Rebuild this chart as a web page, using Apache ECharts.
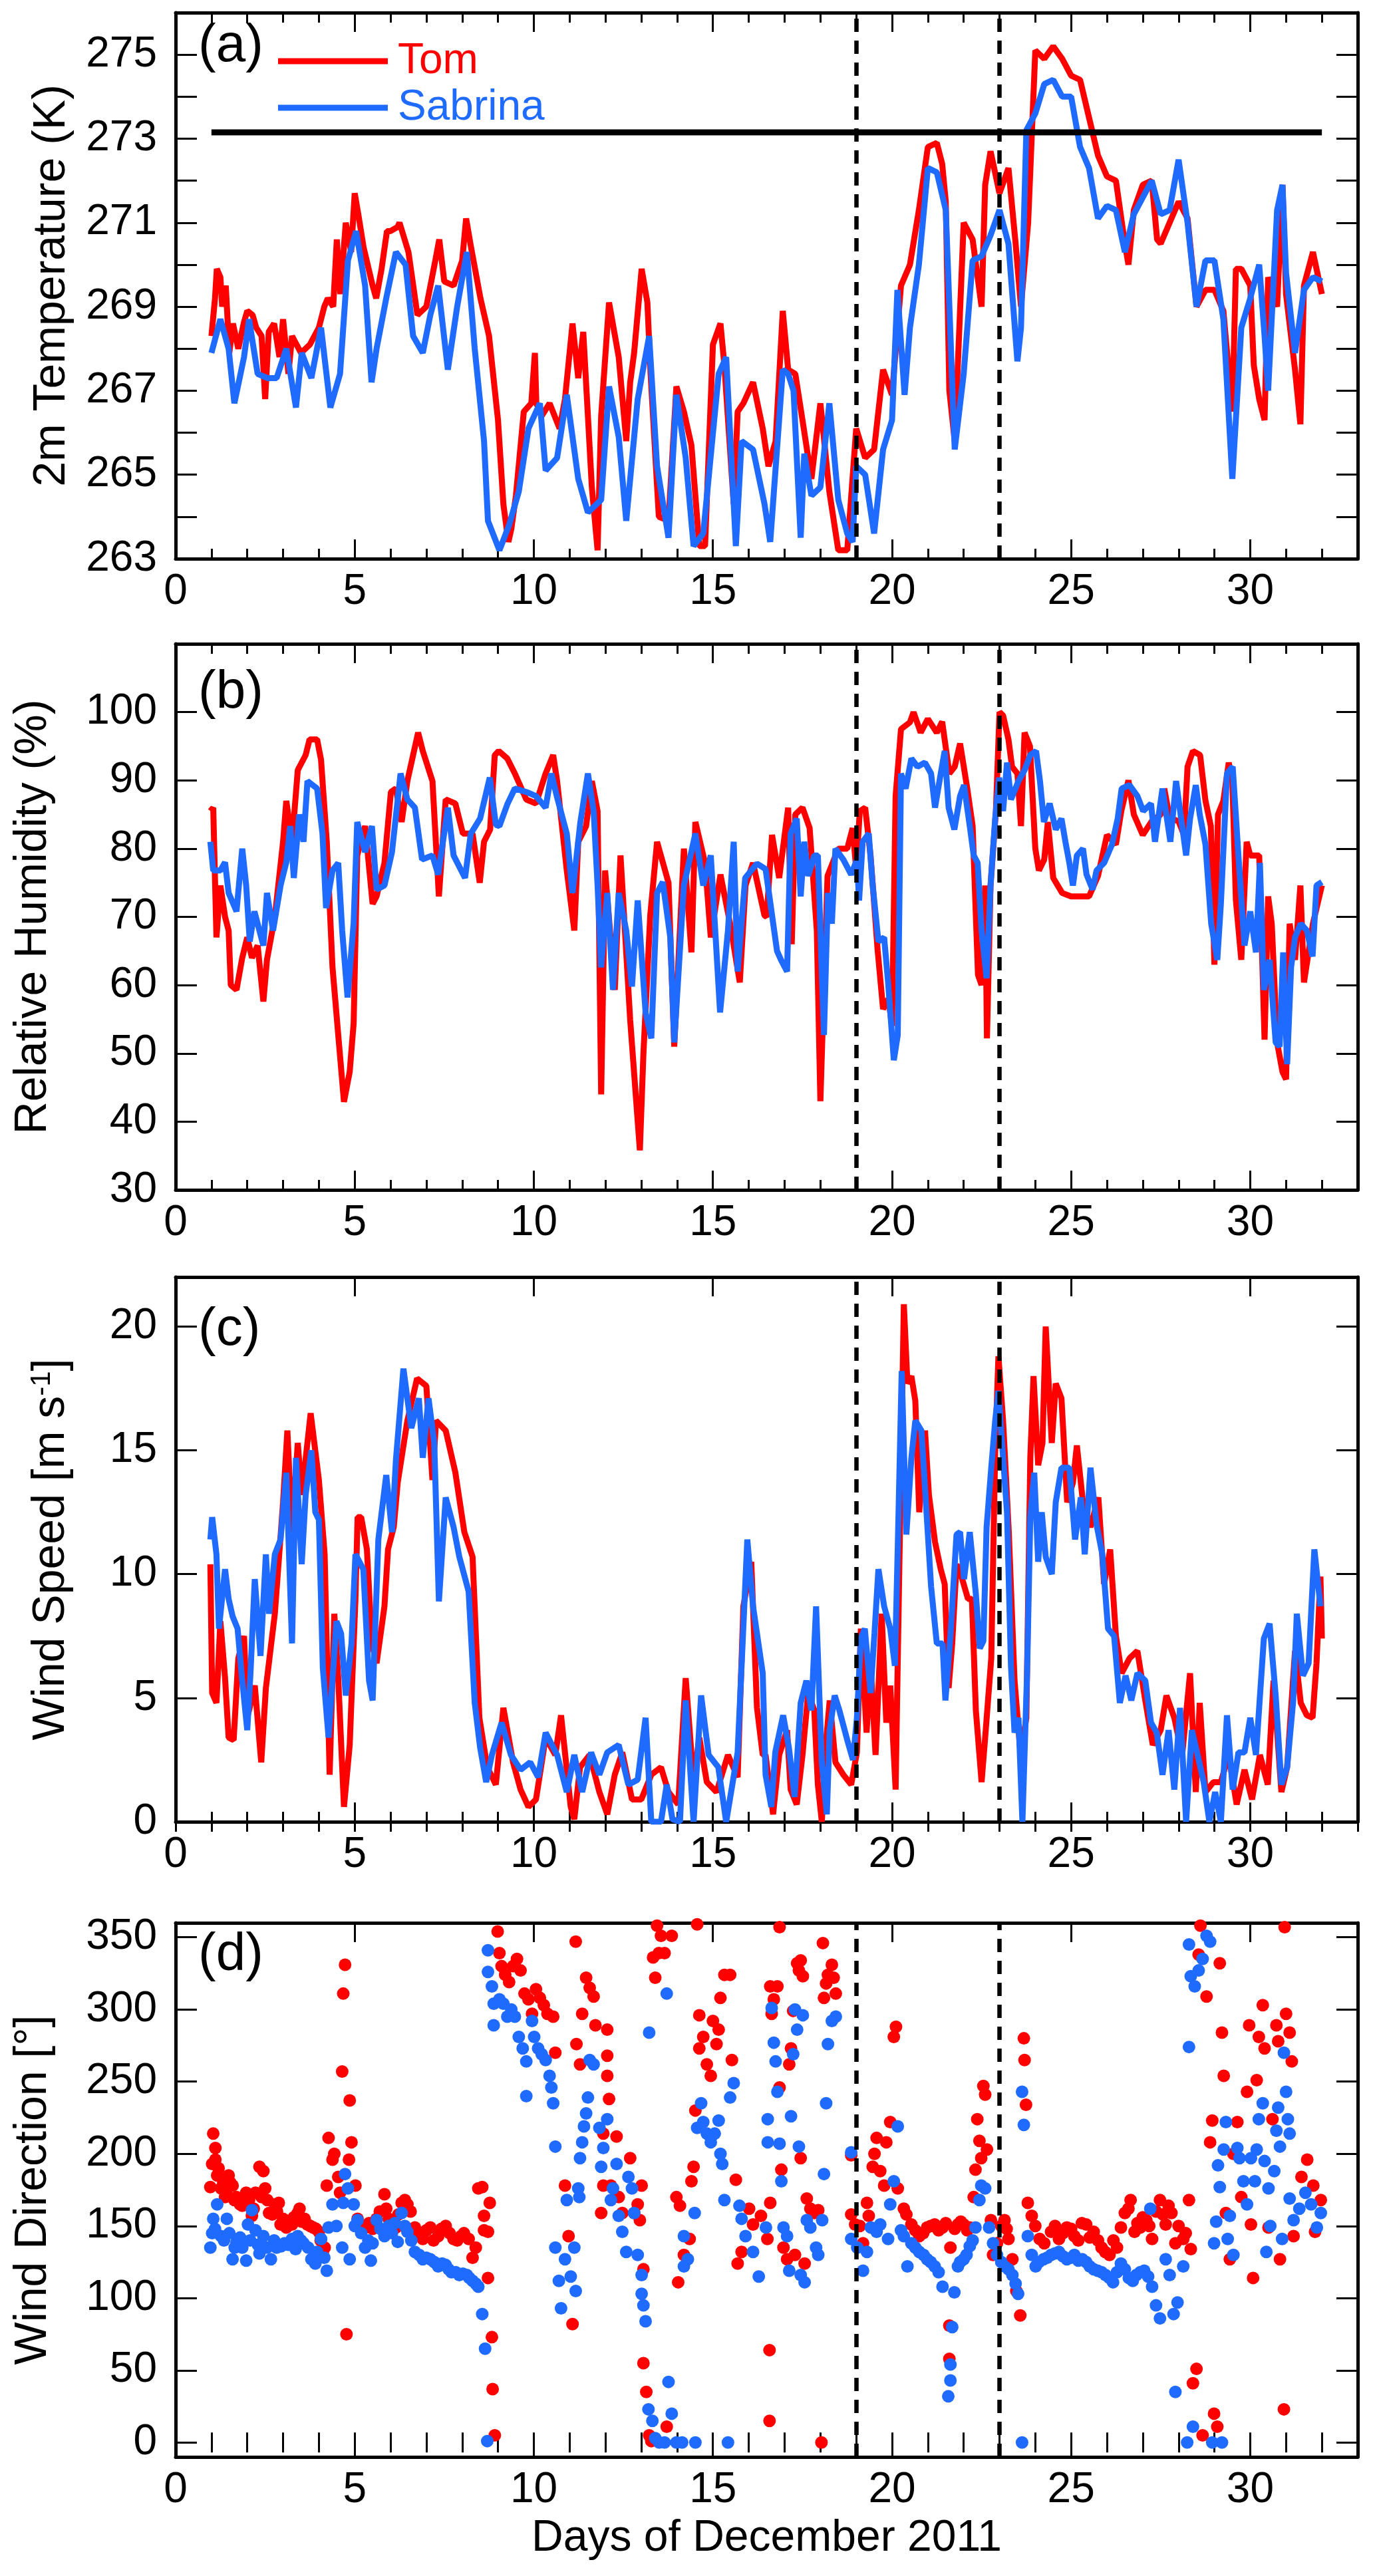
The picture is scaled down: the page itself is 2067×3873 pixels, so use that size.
<!DOCTYPE html>
<html>
<head>
<meta charset="utf-8">
<script src="https://cdn.jsdelivr.net/npm/echarts@6/dist/echarts.min.js"></script>
<style>
  html, body { margin: 0; padding: 0; background: #fff; }
  #chart { width: 2067px; height: 3873px; }
</style>
</head>
<body>
<div id="chart"></div>
<script>
// days of December 2011 where the dashed markers sit, and the 0 °C line
const eventDays = [19, 23];
const freezeLine = [[1, 273.15], [32, 273.15]];

// (a) 2m temperature [K]  -- [day, value]
const tomTemp = [[1.0,268.3],[1.1,269.2],[1.15,269.9],[1.25,269.7],[1.3,269.0],[1.4,269.5],[1.5,267.9],[1.6,268.6],[1.75,268.0],[1.9,268.6],[2.0,268.9],[2.15,268.8],[2.25,268.5],[2.4,268.3],[2.5,266.8],[2.6,268.4],[2.75,268.6],[2.9,267.8],[3.0,268.7],[3.15,267.4],[3.25,268.3],[3.5,267.9],[3.75,268.1],[4.0,268.5],[4.15,269.0],[4.25,269.2],[4.4,269.0],[4.5,270.6],[4.6,269.3],[4.75,271.0],[4.9,270.3],[5.0,271.7],[5.1,271.2],[5.25,270.4],[5.5,269.5],[5.6,269.2],[5.75,269.9],[5.9,270.8],[6.0,270.8],[6.2,270.9],[6.25,271.0],[6.5,270.3],[6.75,268.8],[7.0,269.0],[7.25,270.1],[7.36,270.6],[7.5,269.6],[7.76,269.5],[8.0,270.1],[8.11,271.1],[8.25,270.4],[8.51,269.2],[8.75,268.3],[9.0,266.3],[9.15,264.3],[9.29,263.4],[9.37,263.7],[9.5,264.5],[9.72,266.5],[9.93,266.7],[10.03,267.9],[10.07,266.7],[10.22,266.4],[10.44,266.7],[10.72,266.1],[10.87,266.8],[11.08,268.6],[11.24,267.3],[11.38,268.4],[11.62,264.7],[11.78,263.2],[11.88,266.4],[12.1,269.1],[12.37,267.8],[12.58,265.8],[12.69,267.2],[12.8,267.9],[13.01,269.9],[13.17,269.1],[13.26,267.4],[13.49,264.0],[13.76,263.9],[13.98,267.1],[14.19,266.5],[14.4,265.7],[14.62,263.3],[14.78,263.3],[15.0,268.1],[15.21,268.6],[15.32,267.6],[15.58,264.3],[15.69,266.5],[15.85,266.7],[16.12,267.2],[16.39,266.1],[16.55,265.2],[16.75,265.8],[16.95,268.9],[17.1,267.5],[17.3,267.4],[17.5,266.3],[17.75,264.9],[18.0,266.7],[18.25,264.6],[18.5,263.2],[18.75,263.2],[19.0,266.1],[19.25,265.4],[19.5,265.6],[19.75,267.5],[20.0,266.9],[20.25,269.5],[20.5,270.0],[20.75,271.3],[21.0,272.8],[21.25,272.9],[21.4,272.4],[21.5,271.5],[21.6,267.0],[21.75,265.8],[22.0,271.0],[22.25,270.6],[22.5,269.0],[22.6,271.9],[22.75,272.7],[23.0,271.7],[23.25,272.3],[23.45,270.5],[23.6,269.0],[23.8,271.0],[24.0,275.1],[24.25,274.9],[24.5,275.2],[24.75,274.9],[25.0,274.5],[25.25,274.4],[25.5,273.5],[25.75,272.6],[26.0,272.1],[26.25,272.0],[26.5,270.5],[26.6,270.0],[26.75,271.3],[27.0,271.9],[27.25,272.0],[27.4,270.6],[27.5,270.5],[27.75,271.0],[28.0,271.5],[28.25,271.1],[28.5,269.0],[28.75,269.4],[29.0,269.4],[29.25,268.9],[29.5,266.5],[29.6,269.9],[29.75,269.9],[30.0,269.5],[30.1,267.6],[30.25,266.8],[30.4,266.3],[30.5,269.7],[30.75,269.0],[30.9,271.9],[31.0,269.3],[31.25,267.5],[31.4,266.2],[31.5,269.5],[31.75,270.3],[32.0,269.3]];
const sabTemp = [[1.0,267.9],[1.25,268.7],[1.48,268.0],[1.64,266.7],[1.91,267.8],[2.05,268.7],[2.29,267.4],[2.56,267.3],[2.82,267.3],[3.09,268.0],[3.36,266.6],[3.52,267.9],[3.79,267.3],[4.06,268.5],[4.32,266.6],[4.59,267.4],[4.81,270.1],[5.04,270.8],[5.29,269.5],[5.47,267.2],[5.61,268.0],[5.88,269.2],[6.15,270.3],[6.42,270.0],[6.63,268.3],[6.9,267.9],[7.11,268.8],[7.33,269.5],[7.6,267.5],[7.86,269.0],[8.13,270.3],[8.35,268.0],[8.61,265.8],[8.72,263.9],[9.04,263.2],[9.31,263.8],[9.58,264.6],[9.85,266.1],[10.17,266.7],[10.33,265.1],[10.65,265.4],[10.92,266.9],[11.24,264.9],[11.51,264.1],[11.88,264.4],[12.1,267.1],[12.37,265.9],[12.58,263.9],[12.9,266.8],[13.22,268.3],[13.44,265.2],[13.76,263.5],[13.98,266.9],[14.24,265.4],[14.46,263.3],[14.73,263.6],[15.16,267.4],[15.37,267.8],[15.64,263.3],[15.8,265.8],[16.12,265.6],[16.44,264.3],[16.6,263.4],[16.95,267.5],[17.1,267.4],[17.25,267.0],[17.45,263.5],[17.55,265.5],[17.75,264.5],[18.0,264.7],[18.25,266.7],[18.5,264.4],[18.75,263.6],[18.9,263.4],[19.0,265.2],[19.25,265.0],[19.5,263.6],[19.75,265.6],[20.0,266.3],[20.15,269.4],[20.35,266.9],[20.5,268.5],[20.75,270.0],[21.0,272.3],[21.25,272.2],[21.5,271.3],[21.75,265.6],[22.0,267.4],[22.25,270.1],[22.5,270.2],[22.75,270.7],[23.0,271.3],[23.25,270.5],[23.5,267.7],[23.6,268.5],[23.75,273.2],[24.0,273.6],[24.25,274.3],[24.5,274.4],[24.75,274.0],[25.0,274.0],[25.25,272.8],[25.5,272.3],[25.75,271.1],[26.0,271.4],[26.25,271.3],[26.5,270.3],[26.75,271.2],[27.0,271.6],[27.25,272.0],[27.5,271.2],[27.75,271.3],[28.0,272.5],[28.25,271.0],[28.5,269.0],[28.75,270.1],[29.0,270.1],[29.25,268.7],[29.5,264.9],[29.75,268.5],[30.0,269.2],[30.25,270.0],[30.4,268.3],[30.5,267.0],[30.75,271.3],[30.9,271.9],[31.0,269.8],[31.25,267.9],[31.5,269.4],[31.75,269.7],[32.0,269.6]];

// (b) relative humidity [%]
const tomRH = [[0.97,85.5],[1.05,86],[1.14,67],[1.25,74.6],[1.38,70],[1.48,68],[1.54,60],[1.7,59.3],[1.86,64],[2.0,67],[2.13,64],[2.29,65.8],[2.45,57.6],[2.55,63.7],[2.77,70],[3.0,81],[3.09,87],[3.25,81],[3.41,91.5],[3.63,93.7],[3.74,96],[3.95,96],[4.06,93],[4.22,81],[4.38,62.6],[4.54,52.7],[4.7,42.9],[4.86,47.3],[4.97,54.4],[5.07,79],[5.29,83.3],[5.5,71.9],[5.61,73],[5.83,77.9],[6.01,88.3],[6.15,88.8],[6.31,83.9],[6.47,89.9],[6.63,93.7],[6.77,97],[6.9,94.3],[7.17,89.9],[7.35,73],[7.54,87.2],[7.81,86.6],[8.02,82.2],[8.29,82.2],[8.49,75],[8.61,81],[8.78,82.8],[8.91,93.7],[9.02,94.3],[9.26,93.2],[9.47,91],[9.79,87.2],[10.06,86.6],[10.33,91],[10.54,93.7],[10.65,89.9],[10.92,76.8],[11.13,68],[11.24,81],[11.46,83.3],[11.62,89.9],[11.78,85.5],[11.88,44],[11.99,76.8],[12.26,59.3],[12.42,79],[12.69,54.9],[12.96,35.8],[13.06,50],[13.25,70.2],[13.44,81],[13.76,75],[13.92,51],[14.19,80],[14.4,64.8],[14.51,83.9],[14.78,77.9],[14.94,67],[15.21,76.2],[15.48,69],[15.75,60.4],[15.91,74.6],[16.12,77.9],[16.44,70.2],[16.5,70],[16.65,82],[16.85,75.7],[17.1,86],[17.2,66],[17.3,85],[17.5,86],[17.7,83],[17.9,68],[18.0,43],[18.1,60],[18.2,76],[18.5,80],[18.75,80],[18.9,83],[19.0,77],[19.1,85.5],[19.25,86],[19.4,79],[19.6,65],[19.75,56.5],[19.9,58],[20.0,54],[20.1,87.7],[20.25,97.5],[20.5,98.5],[20.6,100],[20.8,97],[21.0,99],[21.25,97],[21.4,98.6],[21.6,91],[21.75,92],[21.9,95.4],[22.1,88.8],[22.25,83.3],[22.4,61.5],[22.5,60],[22.6,74.6],[22.65,52.2],[22.75,74.6],[22.9,85.5],[23.0,100],[23.1,99.5],[23.25,96],[23.35,92],[23.5,91],[23.6,83.3],[23.7,97],[23.85,95],[24.0,80],[24.1,76.8],[24.25,78.4],[24.35,83.9],[24.5,75.7],[24.75,73.5],[25.0,73],[25.25,73],[25.5,73],[25.75,76],[26.0,82],[26.25,80.6],[26.4,85.5],[26.6,90],[26.75,85],[27.0,82],[27.25,84],[27.5,85],[27.6,88.8],[27.75,84.5],[28.0,84],[28.15,82],[28.25,92],[28.4,94.3],[28.6,93.7],[28.75,87],[28.9,83.3],[29.0,63],[29.1,85],[29.25,87],[29.4,92.6],[29.5,90],[29.6,72.4],[29.75,63.7],[29.9,81],[30.0,79],[30.25,79],[30.4,52],[30.5,73],[30.6,69],[30.75,51.6],[30.9,47.3],[31.0,46.2],[31.1,69],[31.25,63.7],[31.4,74.6],[31.5,60.4],[31.75,69],[32.0,74.6]];
const sabRH = [[0.97,81],[1.05,76.8],[1.25,76.8],[1.38,78],[1.48,73.5],[1.7,70.8],[1.86,80],[1.97,74.6],[2.07,66.4],[2.2,70.8],[2.45,65.8],[2.55,73.5],[2.72,68],[2.93,74.6],[3.09,78],[3.2,83.3],[3.3,75.7],[3.45,85],[3.57,81],[3.68,89.9],[3.95,88.8],[4.1,82.2],[4.2,71.3],[4.38,76.8],[4.54,77.9],[4.65,68],[4.8,58.2],[4.97,69.1],[5.07,83.9],[5.29,79.5],[5.48,83.3],[5.61,74],[5.83,74.6],[6.04,79.5],[6.28,91],[6.47,87.2],[6.68,86],[6.88,78.4],[7.17,79],[7.33,76.2],[7.6,86],[7.76,79],[8.08,75.7],[8.24,82.2],[8.5,84.4],[8.77,90.4],[8.94,83.5],[9.04,83.3],[9.26,86.5],[9.47,88.8],[9.79,88.3],[10.06,87.7],[10.33,86],[10.49,91],[10.65,87.5],[10.92,82.2],[11.08,73.5],[11.3,83.9],[11.51,91],[11.67,85.5],[11.78,74.6],[11.88,62.6],[12.05,73.5],[12.21,59.3],[12.37,73.5],[12.58,68],[12.74,59.8],[12.9,72.4],[13.12,56],[13.28,52.2],[13.44,73.5],[13.6,75.1],[13.81,67],[13.92,51.6],[14.19,74.6],[14.51,82.2],[14.73,74.6],[14.94,79],[15.2,56],[15.42,68],[15.58,81],[15.69,62],[15.9,75.7],[16.23,77.8],[16.47,77],[16.79,65],[16.9,63.7],[17.07,62],[17.17,82.2],[17.34,84.4],[17.45,73],[17.55,81],[17.66,76],[17.83,79],[17.93,79],[18.1,52.7],[18.21,73.5],[18.32,69],[18.42,80],[18.64,78.4],[18.86,76.2],[19.02,78.4],[19.08,72.4],[19.18,81],[19.35,82.2],[19.46,74.6],[19.62,66.4],[19.78,67],[19.89,60.4],[20.05,49],[20.16,52.7],[20.25,91],[20.38,88.8],[20.54,93.2],[20.71,92],[20.92,92.6],[21.09,91],[21.2,86],[21.36,91],[21.47,94.3],[21.58,86],[21.74,82.8],[21.9,87.7],[22.01,89.3],[22.17,83.3],[22.28,79],[22.39,77.9],[22.5,68],[22.64,61],[22.75,74.6],[22.88,84.4],[22.99,90.4],[23.1,85.5],[23.21,92.6],[23.32,87.2],[23.53,89.9],[23.7,91.5],[23.86,93.7],[24.02,94.3],[24.13,89.9],[24.24,83.9],[24.4,86.6],[24.57,82.8],[24.73,84.4],[24.84,81],[24.95,77.9],[25.05,74.6],[25.16,79],[25.33,80],[25.43,76.2],[25.6,74],[25.71,76.8],[25.92,77.9],[26.14,80.6],[26.3,84.4],[26.41,88.8],[26.63,89.3],[26.85,87.7],[27.01,85.5],[27.23,86.6],[27.34,81],[27.55,88.8],[27.77,81],[27.93,89.9],[28.21,79],[28.32,84.4],[28.48,89.3],[28.59,85],[28.75,80.6],[28.91,69],[29.08,63.7],[29.18,71.9],[29.35,91],[29.51,92],[29.67,79],[29.84,65.8],[30.0,70.8],[30.16,64.8],[30.27,77.9],[30.38,59.3],[30.54,63.7],[30.71,51.6],[30.82,51],[30.92,64.8],[31.03,48.4],[31.14,62.6],[31.25,67],[31.41,69],[31.58,68],[31.74,64.2],[31.85,74.6],[32.0,75.1]];

// (c) wind speed [m s-1]
const tomWS = [[0.97,10.4],[1.02,5.2],[1.14,4.8],[1.25,8.1],[1.38,5.8],[1.48,3.4],[1.62,3.3],[1.75,6.6],[1.91,7.5],[2.0,4.2],[2.21,5.5],[2.39,2.4],[2.52,5.4],[2.77,8.4],[3.0,12.9],[3.12,15.8],[3.25,11.7],[3.41,15.3],[3.52,13.2],[3.77,16.5],[4.0,13.8],[4.16,10.8],[4.3,1.9],[4.43,8.4],[4.54,5.8],[4.7,0.6],[4.86,3.1],[5.02,9.0],[5.08,12.3],[5.18,12.3],[5.34,11.0],[5.48,7.2],[5.61,6.4],[5.83,8.7],[5.93,11.0],[6.09,11.9],[6.2,13.7],[6.47,16.2],[6.74,17.9],[7.0,17.6],[7.17,13.8],[7.27,16.2],[7.54,15.8],[7.81,14.1],[8.06,11.7],[8.29,10.7],[8.48,4.2],[8.7,2.2],[8.94,1.5],[9.15,4.6],[9.42,2.4],[9.63,1.3],[9.85,0.6],[10.06,0.9],[10.33,3.4],[10.6,2.7],[10.76,4.3],[11.03,0.6],[11.13,0.1],[11.29,2.2],[11.56,2.7],[11.83,1.2],[12.05,0.3],[12.26,1.9],[12.47,2.8],[12.74,0.9],[13.0,0.9],[13.28,1.9],[13.55,2.2],[13.76,1.2],[14.03,0.7],[14.24,5.8],[14.46,1.6],[14.62,3.4],[14.83,1.6],[15.1,1.2],[15.42,2.7],[15.69,1.8],[15.85,8.7],[16.07,10.5],[16.23,4.6],[16.39,2.7],[16.47,2.7],[16.68,0.3],[16.85,2.7],[17.07,3.7],[17.17,1.3],[17.34,0.7],[17.5,2.7],[17.66,5.2],[17.83,4.5],[17.93,1.5],[18.04,0],[18.15,3.1],[18.26,4.9],[18.42,2.4],[18.64,1.9],[18.86,1.5],[19.02,2.8],[19.13,7.8],[19.29,3.6],[19.4,6.4],[19.54,2.7],[19.71,8.4],[19.84,4.0],[19.95,5.5],[20.1,1.3],[20.22,11.7],[20.33,20.9],[20.43,17.7],[20.54,18.0],[20.65,17.0],[20.76,12.5],[20.92,15.8],[21.03,13.2],[21.2,11.3],[21.36,10.2],[21.47,9.6],[21.58,5.4],[21.68,7.2],[21.8,10.4],[21.96,9.8],[22.12,9.0],[22.23,9.0],[22.34,4.5],[22.5,1.6],[22.6,3.4],[22.77,6.6],[22.88,15.0],[22.97,18.8],[23.1,16.2],[23.26,11.7],[23.42,5.7],[23.59,2.7],[23.75,4.2],[23.86,14.7],[23.95,18.0],[24.08,14.4],[24.2,15.3],[24.29,20.0],[24.46,15.3],[24.57,17.7],[24.73,17.1],[24.89,12.9],[25.05,13.7],[25.16,15.2],[25.33,12.9],[25.54,11.9],[25.76,13.1],[25.92,9.6],[26.09,11.0],[26.25,7.5],[26.41,6.0],[26.63,6.6],[26.85,6.9],[27.07,4.9],[27.28,3.1],[27.5,3.7],[27.66,5.1],[27.88,4.2],[28.1,2.7],[28.32,6.0],[28.48,1.2],[28.59,4.8],[28.75,1.2],[28.97,1.6],[29.18,1.6],[29.4,2.7],[29.62,0.7],[29.84,2.1],[30.05,0.9],[30.27,2.7],[30.49,1.5],[30.65,5.7],[30.87,1.2],[31.03,2.2],[31.25,6.9],[31.41,4.8],[31.58,4.3],[31.74,4.2],[31.85,6.4],[31.96,9.9],[32.0,7.4]];
const sabWS = [[0.97,11.4],[1.02,12.3],[1.14,10.8],[1.21,7.8],[1.38,10.2],[1.48,9.0],[1.59,8.3],[1.73,7.8],[1.86,5.7],[2.0,3.7],[2.09,6.0],[2.21,9.8],[2.37,6.7],[2.52,10.8],[2.61,8.4],[2.77,10.8],[2.93,11.4],[3.09,14.1],[3.25,7.2],[3.36,14.7],[3.52,10.4],[3.63,13.2],[3.79,15.0],[3.9,12.5],[4.0,12.2],[4.11,6.2],[4.27,3.4],[4.49,8.1],[4.62,7.6],[4.75,5.1],[4.91,7.2],[5.02,10.8],[5.24,10.2],[5.4,5.7],[5.5,4.9],[5.66,11.4],[5.88,14.0],[6.04,11.7],[6.15,14.6],[6.36,18.3],[6.58,15.9],[6.79,17.1],[6.9,14.7],[7.06,17.1],[7.22,15.3],[7.35,8.9],[7.54,13.1],[7.76,11.9],[7.92,10.7],[8.18,9.3],[8.35,4.8],[8.5,3.0],[8.67,1.6],[8.83,2.7],[9.1,4.0],[9.36,2.7],[9.63,2.1],[9.9,2.4],[10.12,1.8],[10.33,3.6],[10.65,2.7],[10.92,1.2],[11.13,2.7],[11.35,1.2],[11.6,2.8],[11.83,1.9],[12.05,2.8],[12.37,3.1],[12.64,1.5],[12.9,1.7],[13.12,4.2],[13.28,0],[13.55,0],[13.71,1.5],[13.87,0.1],[14.08,0],[14.24,4.9],[14.46,0],[14.67,5.1],[14.88,2.7],[15.15,2.2],[15.37,0],[15.69,2.8],[15.96,11.4],[16.12,8.7],[16.39,6.0],[16.47,1.9],[16.63,0.6],[16.74,2.8],[16.96,4.3],[17.12,3.0],[17.28,1.0],[17.45,4.8],[17.61,5.7],[17.75,4.5],[17.88,8.7],[18.04,2.4],[18.18,0.3],[18.26,3.7],[18.4,5.1],[18.53,4.5],[18.75,3.3],[18.91,2.5],[19.02,4.2],[19.13,7.4],[19.24,7.8],[19.4,5.2],[19.51,7.6],[19.62,10.2],[19.78,8.7],[19.95,7.8],[20.08,6.3],[20.16,11.1],[20.27,18.2],[20.4,11.6],[20.54,14.7],[20.65,16.2],[20.82,15.8],[20.92,13.5],[21.09,9.5],[21.25,7.2],[21.41,7.2],[21.49,4.9],[21.63,7.5],[21.8,11.6],[21.9,11.7],[22.01,9.8],[22.17,11.7],[22.34,9.2],[22.45,7.0],[22.55,7.3],[22.64,11.9],[22.77,14.3],[22.88,16.2],[22.97,17.4],[23.1,14.7],[23.21,12.5],[23.32,6.3],[23.42,3.6],[23.53,4.2],[23.64,0],[23.77,6.0],[23.86,12.3],[23.97,14.1],[24.08,10.5],[24.18,12.5],[24.29,10.7],[24.46,10.0],[24.57,12.9],[24.73,14.3],[24.95,14.3],[25.11,11.4],[25.27,13.1],[25.38,10.8],[25.54,14.3],[25.71,12.0],[25.87,10.8],[26.03,7.8],[26.2,7.5],[26.36,4.8],[26.52,5.9],[26.68,4.9],[26.85,6.0],[27.07,5.7],[27.23,4.0],[27.39,3.6],[27.55,1.9],[27.72,3.7],[27.88,1.3],[28.04,4.6],[28.21,0],[28.37,3.7],[28.53,2.7],[28.7,1.6],[28.86,0],[29.02,1.2],[29.18,0],[29.35,4.3],[29.51,1.3],[29.67,2.8],[29.84,2.8],[30.0,4.2],[30.16,2.7],[30.38,7.4],[30.54,8.0],[30.71,5.1],[30.87,1.5],[31.03,2.2],[31.2,4.9],[31.3,8.4],[31.47,5.9],[31.63,6.4],[31.79,11.0],[31.96,8.7]];

// (d) wind direction [deg]
const tomWD = [[0.97,177],[1.02,193],[1.05,214],[1.11,204],[1.11,196],[1.16,185],[1.2,190],[1.27,176],[1.33,180],[1.38,170],[1.42,172],[1.48,185],[1.53,180],[1.59,178],[1.64,168],[1.7,170],[1.8,165],[1.86,164],[1.92,170],[1.97,173],[2.05,168],[2.13,157],[2.18,162],[2.23,173],[2.34,191],[2.4,170],[2.45,188],[2.5,176],[2.56,168],[2.61,159],[2.7,158],[2.77,165],[2.83,160],[2.88,166],[2.93,151],[3.0,155],[3.09,149],[3.15,152],[3.25,151],[3.3,156],[3.41,159],[3.46,162],[3.52,153],[3.6,155],[3.68,151],[3.76,150],[3.84,149],[3.92,148],[4.0,146],[4.05,140],[4.11,132],[4.16,135],[4.22,178],[4.27,211],[4.38,196],[4.43,200],[4.54,184],[4.59,173],[4.65,257],[4.68,311],[4.73,331],[4.77,75],[4.84,196],[4.86,237],[4.91,208],[5.02,178],[5.08,155],[5.2,150],[5.29,149],[5.4,152],[5.5,148],[5.61,155],[5.7,160],[5.83,172],[5.88,162],[5.95,155],[6.05,148],[6.15,149],[6.22,158],[6.31,166],[6.4,168],[6.47,165],[6.56,160],[6.68,149],[6.8,145],[6.9,141],[7.0,147],[7.11,149],[7.2,140],[7.33,143],[7.42,148],[7.54,150],[7.65,145],[7.76,141],[7.86,140],[7.97,143],[8.05,145],[8.18,141],[8.29,128],[8.38,135],[8.45,176],[8.56,177],[8.61,157],[8.61,147],[8.72,146],[8.77,166],[8.72,114],[8.83,73],[8.85,37],[8.91,5],[8.99,354],[9.04,339],[9.1,330],[9.2,324],[9.31,319],[9.42,330],[9.53,335],[9.63,327],[9.74,311],[9.85,307],[9.95,297],[10.06,314],[10.17,308],[10.28,303],[10.38,297],[10.54,295],[10.6,270],[10.87,178],[10.97,143],[11.08,82],[11.17,347],[11.19,276],[11.29,262],[11.35,297],[11.46,322],[11.56,315],[11.67,309],[11.72,289],[11.88,159],[11.94,178],[11.94,214],[12.05,286],[12.05,268],[12.05,254],[12.1,238],[12.15,178],[12.31,212],[12.37,170],[12.47,159],[12.69,197],[12.8,159],[12.9,165],[12.96,154],[13.01,178],[13.06,120],[13.06,55],[13.14,35],[13.22,5],[13.28,1],[13.33,336],[13.39,322],[13.44,358],[13.49,339],[13.55,351],[13.65,339],[13.71,11],[13.85,351],[13.98,170],[14.03,111],[14.08,164],[14.19,130],[14.35,141],[14.4,181],[14.46,191],[14.51,230],[14.56,359],[14.62,296],[14.62,273],[14.73,281],[14.83,262],[14.94,254],[15.0,292],[15.1,276],[15.16,286],[15.21,308],[15.32,324],[15.48,324],[15.53,265],[15.64,182],[15.69,124],[15.8,132],[16.01,162],[16.12,151],[16.34,157],[16.52,141],[16.58,64],[16.58,15],[16.6,166],[16.6,316],[16.64,297],[16.7,307],[16.8,316],[16.86,246],[16.86,357],[16.91,189],[16.97,135],[17.07,127],[17.13,262],[17.18,273],[17.24,299],[17.29,130],[17.35,332],[17.4,327],[17.45,334],[17.45,197],[17.51,323],[17.56,124],[17.62,169],[17.72,162],[17.83,159],[17.94,161],[18.03,0],[18.07,346],[18.1,308],[18.16,318],[18.21,324],[18.32,331],[18.37,322],[18.43,311],[18.86,199],[18.86,158],[18.97,151],[19.1,150],[19.19,138],[19.3,166],[19.35,157],[19.46,191],[19.51,200],[19.57,211],[19.67,188],[19.78,178],[19.84,208],[19.95,222],[20.05,281],[20.11,288],[20.16,176],[20.33,162],[20.4,158],[20.54,151],[20.65,147],[20.76,143],[20.87,145],[20.98,149],[21.08,150],[21.19,151],[21.3,147],[21.41,149],[21.5,152],[21.6,81],[21.6,58],[21.63,135],[21.75,148],[21.84,151],[21.92,153],[22.0,151],[22.1,147],[22.17,149],[22.28,170],[22.33,189],[22.38,224],[22.44,209],[22.49,197],[22.55,247],[22.6,241],[22.65,203],[22.76,154],[22.82,130],[22.93,138],[23.05,150],[23.14,154],[23.2,148],[23.25,141],[23.36,127],[23.47,105],[23.58,88],[23.68,280],[23.7,265],[23.74,234],[23.79,166],[23.9,157],[24.0,150],[24.12,141],[24.25,138],[24.44,146],[24.55,150],[24.66,141],[24.77,145],[24.88,149],[25.0,148],[25.09,143],[25.2,140],[25.3,152],[25.42,151],[25.52,142],[25.63,146],[25.75,140],[25.85,135],[25.95,132],[26.07,130],[26.18,140],[26.28,135],[26.39,149],[26.5,159],[26.6,162],[26.66,168],[26.77,146],[26.85,152],[26.93,149],[27.0,156],[27.1,154],[27.18,150],[27.26,141],[27.37,160],[27.48,168],[27.56,158],[27.64,151],[27.72,164],[27.8,159],[27.91,138],[28.0,150],[28.13,141],[28.2,145],[28.29,168],[28.34,134],[28.4,41],[28.5,51],[28.56,338],[28.61,358],[28.67,5],[28.78,309],[28.88,208],[28.94,223],[28.99,20],[29.08,11],[29.15,332],[29.21,284],[29.26,254],[29.32,159],[29.43,127],[29.53,200],[29.64,222],[29.75,170],[29.91,243],[29.97,289],[30.02,151],[30.08,114],[30.18,251],[30.24,281],[30.35,303],[30.4,273],[30.51,149],[30.62,224],[30.73,289],[30.78,278],[30.83,127],[30.94,23],[30.96,357],[31.0,297],[31.1,284],[31.16,264],[31.21,143],[31.43,184],[31.59,196],[31.76,178],[31.81,146],[31.97,168]];
const sabWD = [[0.97,135],[1.02,145],[1.05,155],[1.1,148],[1.16,165],[1.27,143],[1.35,140],[1.43,155],[1.5,145],[1.59,127],[1.65,135],[1.7,139],[1.8,142],[1.86,135],[1.97,126],[2.02,151],[2.08,140],[2.13,161],[2.23,147],[2.3,137],[2.34,131],[2.45,143],[2.55,135],[2.66,127],[2.75,140],[2.82,135],[2.95,136],[3.04,138],[3.15,137],[3.25,141],[3.35,134],[3.41,143],[3.5,140],[3.57,138],[3.7,135],[3.79,127],[3.9,124],[3.95,132],[4.06,141],[4.15,128],[4.22,119],[4.27,149],[4.38,165],[4.49,150],[4.65,135],[4.68,166],[4.73,186],[4.81,176],[4.86,127],[4.97,165],[5.0,150],[5.08,154],[5.18,145],[5.29,135],[5.38,140],[5.45,126],[5.5,138],[5.61,154],[5.72,148],[5.83,143],[5.95,150],[6.04,145],[6.12,152],[6.2,139],[6.31,159],[6.4,150],[6.47,146],[6.58,140],[6.68,132],[6.8,130],[6.9,127],[7.0,128],[7.11,127],[7.22,125],[7.33,122],[7.44,124],[7.54,123],[7.62,120],[7.7,118],[7.82,118],[7.92,116],[8.02,117],[8.13,116],[8.2,114],[8.29,112],[8.38,110],[8.45,108],[8.56,89],[8.64,65],[8.7,1],[8.72,341],[8.72,326],[8.83,316],[8.88,304],[8.88,289],[9.04,307],[9.15,304],[9.26,295],[9.37,300],[9.47,295],[9.58,281],[9.69,273],[9.79,264],[9.79,240],[9.95,292],[10.01,281],[10.12,273],[10.22,269],[10.33,265],[10.44,254],[10.49,246],[10.54,235],[10.6,205],[10.6,135],[10.7,112],[10.76,93],[10.87,127],[10.92,168],[11.03,115],[11.13,135],[11.17,105],[11.24,176],[11.27,170],[11.29,197],[11.35,208],[11.4,219],[11.46,228],[11.51,239],[11.56,265],[11.67,262],[11.83,218],[11.88,191],[11.94,204],[12.05,224],[12.15,168],[12.21,176],[12.31,193],[12.37,157],[12.47,146],[12.58,132],[12.64,184],[12.74,176],[12.8,159],[12.9,130],[13.01,116],[13.01,103],[13.06,95],[13.12,84],[13.22,284],[13.2,23],[13.31,15],[13.39,3],[13.5,0],[13.65,0],[13.71,311],[13.76,42],[13.85,20],[13.98,0],[14.14,0],[14.19,143],[14.19,122],[14.3,127],[14.49,159],[14.51,0],[14.56,218],[14.67,235],[14.73,222],[14.83,214],[14.94,208],[15.05,214],[15.16,223],[15.21,200],[15.26,193],[15.32,168],[15.42,0],[15.48,239],[15.58,249],[15.74,164],[15.8,155],[15.91,143],[16.12,132],[16.28,115],[16.48,149],[16.53,208],[16.53,224],[16.64,301],[16.7,277],[16.75,264],[16.8,243],[16.86,207],[16.91,181],[16.97,149],[17.07,143],[17.13,119],[17.18,226],[17.24,269],[17.29,300],[17.35,286],[17.4,205],[17.45,116],[17.51,296],[17.56,111],[17.62,154],[17.72,149],[17.88,135],[17.94,130],[18.05,154],[18.1,186],[18.16,235],[18.21,276],[18.32,292],[18.43,295],[18.86,201],[18.86,141],[19.03,135],[19.19,119],[19.3,132],[19.41,149],[19.57,146],[19.67,151],[19.89,141],[19.95,165],[20.05,181],[20.16,219],[20.25,147],[20.33,143],[20.43,122],[20.54,138],[20.65,135],[20.76,132],[20.88,130],[20.98,127],[21.08,125],[21.19,122],[21.3,118],[21.41,108],[21.57,32],[21.63,54],[21.63,43],[21.68,80],[21.74,104],[21.84,122],[21.9,125],[22.0,127],[22.08,130],[22.17,136],[22.25,140],[22.33,149],[22.44,168],[22.49,178],[22.6,176],[22.71,149],[22.82,138],[22.93,130],[23.05,125],[23.14,122],[23.25,120],[23.36,116],[23.45,110],[23.52,103],[23.63,243],[23.68,220],[23.63,0],[23.79,143],[23.9,130],[24.01,122],[24.1,125],[24.23,127],[24.33,128],[24.44,130],[24.55,131],[24.66,132],[24.77,129],[24.88,127],[25.0,128],[25.09,130],[25.2,126],[25.31,127],[25.42,125],[25.52,122],[25.63,120],[25.74,119],[25.85,118],[25.96,116],[26.07,114],[26.17,111],[26.28,118],[26.39,124],[26.5,120],[26.61,114],[26.72,112],[26.82,116],[26.93,118],[27.04,119],[27.15,115],[27.21,162],[27.26,108],[27.37,95],[27.48,86],[27.64,127],[27.75,116],[27.86,89],[27.91,35],[27.97,97],[28.13,122],[28.24,0],[28.29,345],[28.29,274],[28.34,323],[28.4,11],[28.45,316],[28.56,327],[28.67,335],[28.78,351],[28.88,347],[28.94,0],[28.99,138],[29.05,153],[29.1,192],[29.15,177],[29.21,0],[29.26,203],[29.32,222],[29.37,141],[29.43,157],[29.53,130],[29.64,204],[29.7,197],[29.81,181],[29.91,165],[30.02,197],[30.13,181],[30.18,203],[30.24,224],[30.35,235],[30.4,195],[30.45,132],[30.51,176],[30.56,150],[30.67,188],[30.73,216],[30.78,232],[30.83,205],[30.89,141],[30.94,270],[31.0,243],[31.05,224],[31.1,214],[31.1,169],[31.21,154],[31.37,162],[31.54,173],[31.7,165],[31.86,149],[31.97,159]];

const RED = '#ff0000';
const BLUE = '#1f6bff';
const FONT = 'Liberation Sans, Arial, Helvetica, sans-serif';

const grids = [
  { left: 264, right: 26, top: 19, height: 821 },
  { left: 264, right: 26, top: 968, height: 821 },
  { left: 264, right: 26, top: 1920, height: 819 },
  { left: 264, right: 26, top: 2891, height: 803 },
];

const yCfg = [
  { name: '2m Temperature (K)', min: 263, max: 276, interval: 1, gap: 152, fmt: v => (v % 2 === 1 ? v : '') },
  { name: 'Relative Humidity (%)', min: 30, max: 110, interval: 10, gap: 180, fmt: v => (v <= 100 ? v : '') },
  { name: 'Wind Speed [m s{sup|-1}]', min: 0, max: 22, interval: 5, gap: 152, fmt: v => (v % 5 === 0 ? v : '') },
  { name: 'Wind Direction [°]', min: -10, max: 360, splitNumber: 7, gap: 180, fmt: v => (v % 50 === 0 && v >= 0 ? v : '') },
];

const frame = { show: true, onZero: false, lineStyle: { color: '#000', width: 5 } };
const tick = len => ({ show: true, inside: true, length: len, lineStyle: { color: '#000', width: 3 } });

const xAxes = [];
const yAxes = [];
grids.forEach((g, i) => {
  const base = { type: 'value', gridIndex: i, min: 0, max: 33, splitLine: { show: false } };
  xAxes.push(Object.assign({}, base, {
    position: 'bottom', interval: 5, axisLine: frame, axisTick: tick(29),
    axisLabel: { show: true, fontSize: 64, fontFamily: FONT, color: '#000', margin: 18,
      formatter: v => (v % 5 === 0 ? v : '') },
    name: i === 3 ? 'Days of December 2011' : '',
    nameLocation: 'middle', nameGap: 90,
    nameTextStyle: { fontSize: 66, fontFamily: FONT, color: '#000' },
  }));
  xAxes.push(Object.assign({}, base, {
    position: 'bottom', interval: 1, axisLine: { show: false }, axisTick: tick(15), axisLabel: { show: false },
  }));
  xAxes.push(Object.assign({}, base, {
    position: 'top', interval: 5, axisLine: frame, axisTick: tick(29), axisLabel: { show: false },
  }));
  xAxes.push(Object.assign({}, base, {
    position: 'top', interval: 1, axisLine: { show: false }, axisTick: tick(15), axisLabel: { show: false },
  }));

  const c = yCfg[i];
  const yBase = { type: 'value', gridIndex: i, min: c.min, max: c.max, splitLine: { show: false } };
  if (c.interval) yBase.interval = c.interval;
  if (c.splitNumber) yBase.splitNumber = c.splitNumber;
  yAxes.push(Object.assign({}, yBase, {
    position: 'left', axisLine: frame, axisTick: tick(32),
    axisLabel: { show: true, fontSize: 64, fontFamily: FONT, color: '#000', margin: 28, formatter: c.fmt },
    name: c.name, nameLocation: 'middle', nameGap: c.gap, nameRotate: 90,
    nameTextStyle: { fontSize: 68, fontFamily: FONT, color: '#000',
      rich: { sup: { fontSize: 42, fontFamily: FONT, color: '#000', verticalAlign: 'top', padding: [0, 0, 28, 0] } } },
  }));
  yAxes.push(Object.assign({}, yBase, {
    position: 'right', axisLine: frame, axisTick: tick(32), axisLabel: { show: false },
  }));
});

const eventMarks = {
  silent: true, symbol: 'none', animation: false,
  label: { show: false },
  lineStyle: { color: '#000', type: [20, 13], width: 6.5 },
  data: eventDays.map(d => ({ xAxis: d })),
};

const lineData = [[tomTemp, sabTemp], [tomRH, sabRH], [tomWS, sabWS]];
const series = [];
lineData.forEach((pair, i) => {
  series.push({ name: 'Tom', type: 'line', data: pair[0], xAxisIndex: 4 * i, yAxisIndex: 2 * i,
    symbol: 'none', lineStyle: { color: RED, width: 9 }, itemStyle: { color: RED }, z: 2 });
});
lineData.forEach((pair, i) => {
  series.push({ name: 'Sabrina', type: 'line', data: pair[1], xAxisIndex: 4 * i, yAxisIndex: 2 * i,
    symbol: 'none', lineStyle: { color: BLUE, width: 9 }, itemStyle: { color: BLUE }, z: 3,
    markLine: eventMarks });
});
series.push({ name: 'freezing', type: 'line', data: freezeLine, xAxisIndex: 0, yAxisIndex: 0,
  symbol: 'none', lineStyle: { color: '#000', width: 9 }, z: 4 });
series.push({ name: 'Tom', type: 'scatter', data: tomWD, xAxisIndex: 12, yAxisIndex: 6,
  symbolSize: 19, itemStyle: { color: RED, opacity: 1 }, z: 2 });
series.push({ name: 'Sabrina', type: 'scatter', data: sabWD, xAxisIndex: 12, yAxisIndex: 6,
  symbolSize: 19, itemStyle: { color: BLUE, opacity: 1 }, z: 3, markLine: eventMarks });

const panelLabels = ['(a)', '(b)', '(c)', '(d)'];
const labelTops = [30, 1002, 1960, 2900];

const chart = echarts.init(document.getElementById('chart'), null, { renderer: 'canvas' });
chart.setOption({
  backgroundColor: '#fff',
  animation: false,
  grid: grids,
  xAxis: xAxes,
  yAxis: yAxes,
  legend: {
    data: [
      { name: 'Tom', icon: 'rect', textStyle: { color: RED } },
      { name: 'Sabrina', icon: 'rect', textStyle: { color: BLUE } },
    ],
    orient: 'vertical', left: 418, top: 60, padding: 0,
    itemWidth: 165, itemHeight: 9, itemGap: 6,
    textStyle: { fontSize: 64, fontFamily: FONT, lineHeight: 54, padding: [0, 0, 0, 10] },
    selectedMode: false,
  },
  graphic: panelLabels.map((t, i) => ({
    type: 'text', left: 298, top: labelTops[i], silent: true,
    style: { text: t, font: '80px ' + FONT, fill: '#000' },
  })),
  series: series,
});
</script>
</body>
</html>
